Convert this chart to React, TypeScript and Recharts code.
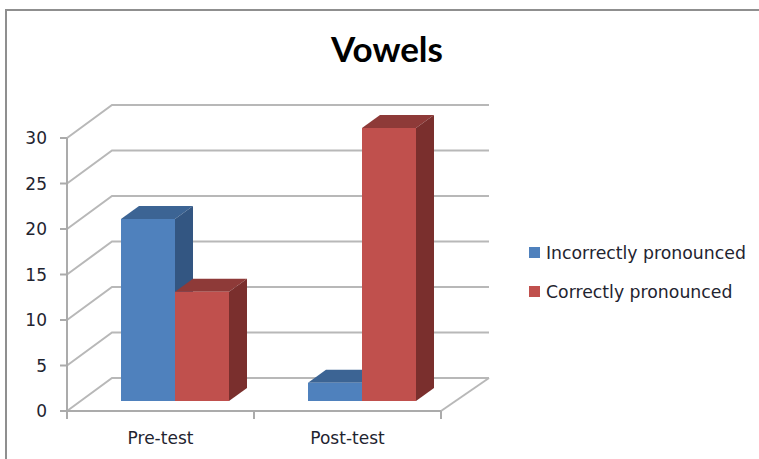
import { Bar, BarChart, CartesianGrid, Legend, XAxis, YAxis } from 'recharts';

const categories = ['Pre-test', 'Post-test'];
const incorrectValues = [20, 2];
const correctValues = [12, 30];
const yTicks = [0, 5, 10, 15, 20, 25, 30];

const seriesNames = ['Incorrectly pronounced', 'Correctly pronounced'];

const data = categories.map((label, i) => ({
  label,
  incorrect: incorrectValues[i],
  correct: correctValues[i],
}));

const CHART_WIDTH = 759;
const CHART_HEIGHT = 459;
const MARGIN_RIGHT = 318;
const Y_AXIS_WIDTH = 67;
const PLOT_BOTTOM = 411;
const BAND_WIDTH = (CHART_WIDTH - MARGIN_RIGHT - Y_AXIS_WIDTH) / categories.length;

// the pseudo 3D look: bars stand a bit behind the front edge of the floor
const BAR_SHIFT_X = 14;
const BAR_SHIFT_Y = -10;
const BAR_DEPTH_X = 18;
const BAR_DEPTH_Y = -13;
const WALL_DX = 45;
const WALL_DY = -33;
const WALL_RIGHT_DX = 48;

const gridColor = '#b8b8b8';
const axisColor = '#ababab';
const labelColor = '#1f2430';
const fontFamily = '"DejaVu Sans", sans-serif';

const blue = { front: '#4f81bd', top: '#3c6494', side: '#335682' };
const red = { front: '#c0504d', top: '#8e3a38', side: '#7a2f2d' };

type BoxColors = typeof blue;

function Box3D(props: any, colors: BoxColors) {
  const x = props.x + BAR_SHIFT_X;
  const y = props.y + BAR_SHIFT_Y;
  const { width, height } = props;
  const right = x + width;
  const bottom = y + height;
  return (
    <g>
      <polygon
        fill={colors.top}
        points={`${x},${y} ${x + BAR_DEPTH_X},${y + BAR_DEPTH_Y} ${right + BAR_DEPTH_X},${y + BAR_DEPTH_Y} ${right},${y}`}
      />
      <polygon
        fill={colors.side}
        points={`${right},${y} ${right + BAR_DEPTH_X},${y + BAR_DEPTH_Y} ${right + BAR_DEPTH_X},${bottom + BAR_DEPTH_Y} ${right},${bottom}`}
      />
      <rect x={x} y={y} width={width} height={height} fill={colors.front} />
    </g>
  );
}

function WallLine(props: any) {
  const { x1, x2, y1 } = props;
  const isFloor = y1 >= PLOT_BOTTOM - 1;
  const backY = y1 + WALL_DY;
  return (
    <g key={`wall-${y1}`} fill="none" stroke={gridColor} strokeWidth={2}>
      <polyline
        points={`${x1},${y1} ${x1 + WALL_DX},${backY} ${x2 + WALL_RIGHT_DX},${backY}`}
      />
      {isFloor && (
        <line x1={x2} y1={y1} x2={x2 + WALL_RIGHT_DX} y2={backY} />
      )}
    </g>
  );
}

// tick marks sit on the band edges, not under the labels
function CategoryTick(props: any) {
  const { x, y, payload } = props;
  const left = x - BAND_WIDTH / 2;
  const right = x + BAND_WIDTH / 2;
  return (
    <g>
      <line x1={left} y1={PLOT_BOTTOM} x2={left} y2={PLOT_BOTTOM + 8} stroke={axisColor} strokeWidth={2} />
      <line x1={right} y1={PLOT_BOTTOM} x2={right} y2={PLOT_BOTTOM + 8} stroke={axisColor} strokeWidth={2} />
      <text
        x={x}
        y={y + 25}
        textAnchor="middle"
        fill={labelColor}
        fontSize={17}
        fontFamily={fontFamily}
      >
        {payload.value}
      </text>
    </g>
  );
}

function LegendList() {
  const colors = [blue.front, red.front];
  return (
    <div style={{ fontFamily, fontSize: 17.3, color: labelColor }}>
      {seriesNames.map((name, i) => (
        <div
          key={name}
          style={{
            position: 'absolute',
            left: 0,
            top: i * 38.5,
            height: 22,
            lineHeight: '22px',
            whiteSpace: 'nowrap',
          }}
        >
          <span
            style={{
              position: 'absolute',
              left: 0,
              top: 5,
              width: 11,
              height: 11,
              background: colors[i],
            }}
          />
          <span style={{ marginLeft: 17 }}>{name}</span>
        </div>
      ))}
    </div>
  );
}

export default function App() {
  return (
    <div
      style={{
        position: 'absolute',
        left: 0,
        top: 0,
        width: CHART_WIDTH,
        height: CHART_HEIGHT,
        background: '#fff',
        overflow: 'hidden',
      }}
    >
      <BarChart
        width={CHART_WIDTH}
        height={CHART_HEIGHT}
        data={data}
        margin={{ top: 138, right: MARGIN_RIGHT, bottom: 0, left: 0 }}
        barCategoryGap={40}
        barGap={0}
      >
        <CartesianGrid
          vertical={false}
          horizontal={(props: any) => <WallLine {...props} />}
        />
        <XAxis
          dataKey="label"
          height={48}
          interval={0}
          tickLine={false}
          stroke={axisColor}
          strokeWidth={2}
          tick={CategoryTick}
        />
        <YAxis
          type="number"
          domain={[0, 30]}
          ticks={yTicks}
          width={Y_AXIS_WIDTH}
          interval={0}
          tickSize={7}
          tickMargin={13}
          stroke={axisColor}
          strokeWidth={2}
          tick={{ fill: labelColor, fontSize: 17, fontFamily }}
        />
        <Legend
          layout="vertical"
          align="center"
          verticalAlign="middle"
          content={() => <LegendList />}
          wrapperStyle={{ left: 529, top: 242, width: 230, height: 70 }}
        />
        <Bar
          dataKey="incorrect"
          name={seriesNames[0]}
          isAnimationActive={false}
          shape={(props: any) => Box3D(props, blue)}
        />
        <Bar
          dataKey="correct"
          name={seriesNames[1]}
          isAnimationActive={false}
          shape={(props: any) => Box3D(props, red)}
        />
      </BarChart>
      <div
        style={{
          position: 'absolute',
          left: 5,
          top: 9,
          right: 0,
          bottom: -2,
          borderLeft: '2px solid #8f8f8f',
          borderTop: '2px solid #8f8f8f',
        }}
      />
      <div
        style={{
          position: 'absolute',
          left: 287,
          width: 200,
          top: 26,
          textAlign: 'center',
          fontFamily: 'Lato, sans-serif',
          fontWeight: 700,
          fontSize: 35,
          lineHeight: '44px',
          color: '#000',
        }}
      >
        Vowels
      </div>
    </div>
  );
}
